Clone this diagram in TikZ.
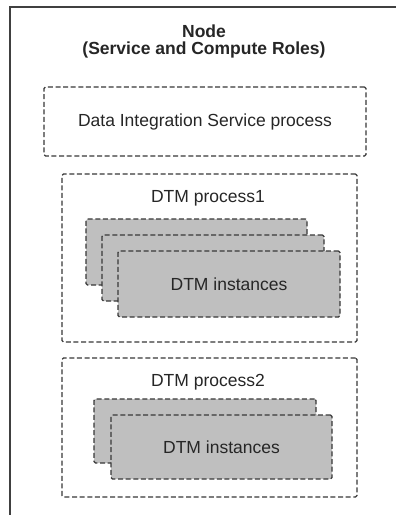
\documentclass[tikz,border=0pt]{standalone}
\usepackage{fontspec}
\setmainfont{Liberation Sans}
\begin{document}
\begin{tikzpicture}[x=1pt,y=-1pt,
  dbox/.style={draw=black!78, line width=1.3pt, dash pattern=on 5pt off 2.6pt, rounded corners=1.5pt, inner sep=0pt},
  inst/.style={dbox, fill=black!25},
  lbl/.style={font=\fontsize{17.5}{21}\selectfont, text=black!85, inner sep=0pt},
  ttl/.style={font=\fontsize{17.5}{17}\selectfont\bfseries, text=black!85, inner sep=0pt, align=center}]
\useasboundingbox (0,0) rectangle (396,515);
\fill[white] (0,0) rectangle (396,515);
% outer node frame (cut off at right and bottom)
\draw[draw=black!75, line width=2pt] (10,520) -- (10,7) -- (400,7);
\node[ttl] (title) at (204,41.5) {Node\\(Service and Compute Roles)};
% Data Integration Service process
\node[dbox, minimum width=322, minimum height=69, lbl] (dis) at (205,121.5) {Data Integration Service process};
% DTM process1
\node[dbox, minimum width=295, minimum height=168] (p1) at (209.5,258) {};
\node[lbl] (p1l) at (208,198) {DTM process1};
\node[inst, minimum width=221, minimum height=66] (a1) at (196.5,252) {};
\node[inst, minimum width=222, minimum height=66] (b1) at (213,268) {};
\node[inst, minimum width=222, minimum height=66, lbl] (c1) at (229,284) {DTM instances};
% DTM process2
\node[dbox, minimum width=295, minimum height=139] (p2) at (209.5,427.5) {};
\node[lbl] (p2l) at (208,382) {DTM process2};
\node[inst, minimum width=222, minimum height=64] (a2) at (205,431) {};
\node[inst, minimum width=221, minimum height=64, lbl] (b2) at (221.5,447) {DTM instances};
\end{tikzpicture}
\end{document}
